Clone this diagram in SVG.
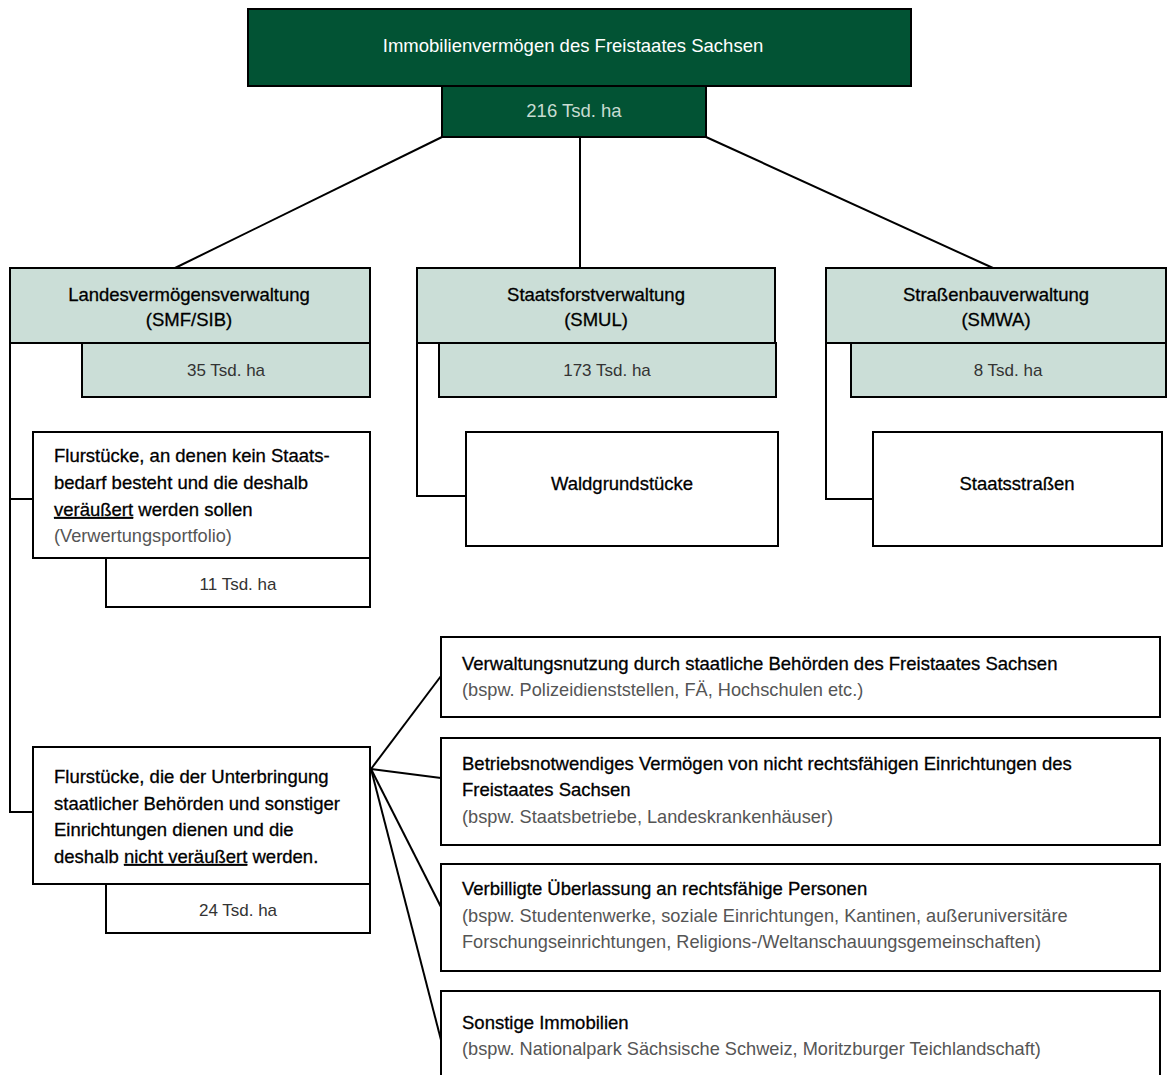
<svg xmlns="http://www.w3.org/2000/svg" width="1168" height="1075" viewBox="0 0 1168 1075">
<style>
text{font-family:"Liberation Sans",Arial,sans-serif;font-size:18.5px;fill:#000}
.m{stroke:#000;stroke-width:0.3}
.c{text-anchor:middle}
.w{fill:#fff}
.lg{fill:#c8dcd2}
.g{fill:#555;font-size:18.2px}
.gy{fill:#333;font-size:17px}
.dk{fill:#025334;stroke:#000;stroke-width:2}
.lt{fill:#cbded7;stroke:#000;stroke-width:2}
.wh{fill:#fff;stroke:#000;stroke-width:2}
.ln{fill:none;stroke:#000;stroke-width:2}
.u{text-decoration:underline}
</style>
<rect width="1168" height="1075" fill="#fff"/>
<g id="connectors">
<line class="ln" x1="442" y1="137" x2="175" y2="268"/>
<line class="ln" x1="580" y1="137" x2="580" y2="268"/>
<line class="ln" x1="706" y1="137" x2="993" y2="268"/>
<polyline class="ln" points="10,343 10,812 33,812"/>
<line class="ln" x1="10" y1="499" x2="33" y2="499"/>
<polyline class="ln" points="417,343 417,496 466,496"/>
<polyline class="ln" points="826,343 826,499 873,499"/>
<line class="ln" x1="371" y1="769" x2="441" y2="676"/>
<line class="ln" x1="371" y1="769" x2="441" y2="778"/>
<line class="ln" x1="371" y1="769" x2="441" y2="907"/>
<line class="ln" x1="371" y1="769" x2="441" y2="1040"/>
</g>
<g id="root">
<rect class="dk" x="248" y="9" width="663" height="77"/>
<text class="c w" x="573" y="52">Immobilienvermögen des Freistaates Sachsen</text>
</g>
<g id="root-area">
<rect class="dk" x="442" y="86" width="264" height="51"/>
<text class="c lg" x="574" y="117" font-size="17">216 Tsd. ha</text>
</g>
<g id="lvv">
<rect class="lt" x="10" y="268" width="360" height="75"/>
<text class="c m" x="189" y="301">Landesvermögensverwaltung</text>
<text class="c m" x="189" y="326">(SMF/SIB)</text>
</g>
<g id="lvv-area">
<rect class="lt" x="82" y="343" width="288" height="54"/>
<text class="c gy" x="226" y="376">35 Tsd. ha</text>
</g>
<g id="sfv">
<rect class="lt" x="417" y="268" width="358" height="75"/>
<text class="c m" x="596" y="301">Staatsforstverwaltung</text>
<text class="c m" x="596" y="326">(SMUL)</text>
</g>
<g id="sfv-area">
<rect class="lt" x="439" y="343" width="337" height="54"/>
<text class="c gy" x="607" y="376">173 Tsd. ha</text>
</g>
<g id="sbv">
<rect class="lt" x="826" y="268" width="340" height="75"/>
<text class="c m" x="996" y="301">Straßenbauverwaltung</text>
<text class="c m" x="996" y="326">(SMWA)</text>
</g>
<g id="sbv-area">
<rect class="lt" x="851" y="343" width="315" height="54"/>
<text class="c gy" x="1008" y="376">8 Tsd. ha</text>
</g>
<g id="wald">
<rect class="wh" x="466" y="432" width="312" height="114"/>
<text class="c m" x="622" y="490">Waldgrundstücke</text>
</g>
<g id="strassen">
<rect class="wh" x="873" y="432" width="289" height="114"/>
<text class="c m" x="1017" y="490">Staatsstraßen</text>
</g>
<g id="verwertung">
<rect class="wh" x="33" y="432" width="337" height="126"/>
<text class="m" x="54" y="462">Flurstücke, an denen kein Staats-</text>
<text class="m" x="54" y="489">bedarf besteht und die deshalb</text>
<text class="m" x="54" y="516"><tspan class="u">veräußert</tspan> werden sollen</text>
<text class="g" x="54" y="542">(Verwertungsportfolio)</text>
</g>
<g id="verwertung-area">
<rect class="wh" x="106" y="558" width="264" height="49"/>
<text class="c gy" x="238" y="590">11 Tsd. ha</text>
</g>
<g id="unterbringung">
<rect class="wh" x="33" y="747" width="337" height="137"/>
<text class="m" x="54" y="783">Flurstücke, die der Unterbringung</text>
<text class="m" x="54" y="810">staatlicher Behörden und sonstiger</text>
<text class="m" x="54" y="836">Einrichtungen dienen und die</text>
<text class="m" x="54" y="863">deshalb <tspan class="u">nicht veräußert</tspan> werden.</text>
</g>
<g id="unterbringung-area">
<rect class="wh" x="106" y="884" width="264" height="49"/>
<text class="c gy" x="238" y="916">24 Tsd. ha</text>
</g>
<g id="boxA">
<rect class="wh" x="441" y="637" width="719" height="80"/>
<text class="m" x="462" y="670">Verwaltungsnutzung durch staatliche Behörden des Freistaates Sachsen</text>
<text class="g" x="462" y="696">(bspw. Polizeidienststellen, FÄ, Hochschulen etc.)</text>
</g>
<g id="boxB">
<rect class="wh" x="441" y="738" width="719" height="107"/>
<text class="m" x="462" y="770">Betriebsnotwendiges Vermögen von nicht rechtsfähigen Einrichtungen des</text>
<text class="m" x="462" y="796">Freistaates Sachsen</text>
<text class="g" x="462" y="823">(bspw. Staatsbetriebe, Landeskrankenhäuser)</text>
</g>
<g id="boxC">
<rect class="wh" x="441" y="864" width="719" height="107"/>
<text class="m" x="462" y="895">Verbilligte Überlassung an rechtsfähige Personen</text>
<text class="g" x="462" y="922">(bspw. Studentenwerke, soziale Einrichtungen, Kantinen, außeruniversitäre</text>
<text class="g" x="462" y="948">Forschungseinrichtungen, Religions-/Weltanschauungsgemeinschaften)</text>
</g>
<g id="boxD">
<rect class="wh" x="441" y="991" width="719" height="100"/>
<text class="m" x="462" y="1029">Sonstige Immobilien</text>
<text class="g" x="462" y="1055">(bspw. Nationalpark Sächsische Schweiz, Moritzburger Teichlandschaft)</text>
</g>
</svg>
